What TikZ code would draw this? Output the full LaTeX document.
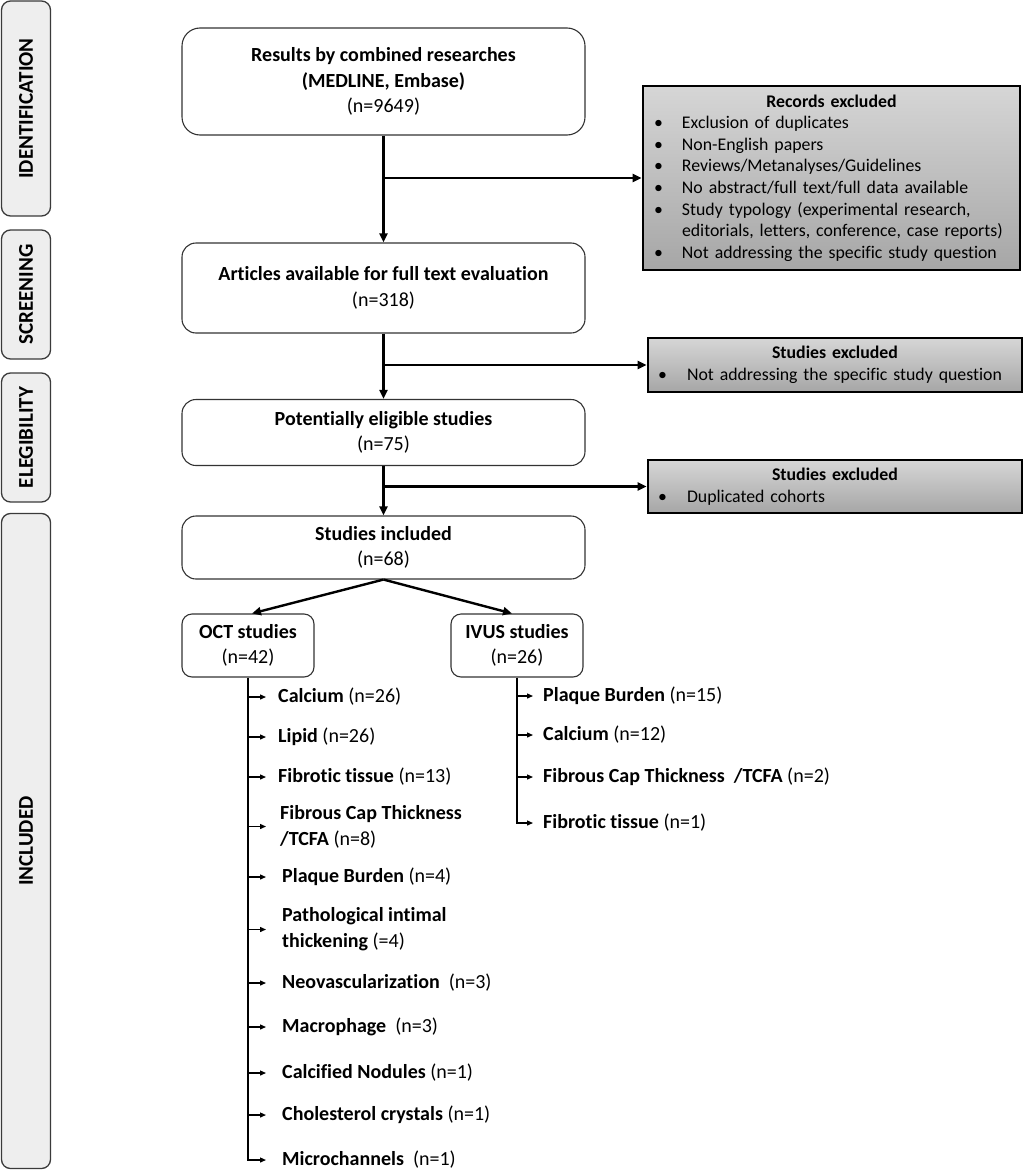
\documentclass[tikz,border=0pt]{standalone}
\usepackage{fontspec}
\setmainfont{Carlito}[Ligatures=NoCommon]
\usetikzlibrary{arrows.meta,calc}
\definecolor{phasefill}{HTML}{EEEEEE}
\definecolor{phasedraw}{HTML}{3A3A3A}
\definecolor{boxdraw}{HTML}{333333}
\definecolor{extop}{HTML}{D6D6D6}
\definecolor{exbot}{HTML}{A6A6A6}
\begin{document}
\begin{tikzpicture}[x=1pt,y=-1pt,
  phase/.style={draw=phasedraw, line width=1.3pt, fill=phasefill, rounded corners=9pt,
    rotate=90, font=\fontsize{21}{24}\selectfont\bfseries, inner sep=0pt},
  mainbox/.style={draw=boxdraw, line width=1.1pt, rounded corners=14pt, fill=white,
    align=center, inner sep=0pt, font=\fontsize{20}{25.5}\selectfont},
  exbox/.style={draw=black, line width=2.8pt, top color=extop, bottom color=exbot,
    font=\fontsize{17.8}{21.6}\selectfont, inner ysep=0pt, align=left},
  flow/.style={line width=2.4pt, -{Triangle[length=9pt,width=8pt]}},
  sub/.style={line width=1.3pt, -{Triangle[length=6pt,width=5pt]}},
  item/.style={anchor=west, align=left, inner sep=0pt, font=\fontsize{20}{26}\selectfont}
]
\useasboundingbox (0,0) rectangle (1026,1172);

% phase labels
\node[phase, minimum width=215, minimum height=49] (pid) at (26,108.5) {IDENTIFICATION};
\node[phase, minimum width=129, minimum height=49] (psc) at (26,294.5) {SCREENING};
\node[phase, minimum width=129, minimum height=49] (pel) at (26,437.5) {ELEGIBILITY};
\node[phase, minimum width=655, minimum height=49] (pin) at (26,841) {INCLUDED};

% main boxes
\node[mainbox, rounded corners=18pt, minimum width=403, minimum height=107] (b1) at (383.5,81.5)
  {\textbf{Results by combined researches}\\\textbf{(MEDLINE, Embase)}\\(n=9649)};
\node[mainbox, minimum width=403, minimum height=90] (b2) at (383.5,288)
  {\textbf{Articles available for full text evaluation}\\(n=318)};
\node[mainbox, minimum width=403, minimum height=66] (b3) at (383.5,432.5)
  {\textbf{Potentially eligible studies}\\(n=75)};
\node[mainbox, minimum width=403, minimum height=63] (b4) at (383.5,547.5)
  {\textbf{Studies included}\\(n=68)};
\node[mainbox, rounded corners=10pt, minimum width=132, minimum height=63] (oct) at (248,645.5)
  {\textbf{OCT studies}\\(n=42)};
\node[mainbox, rounded corners=10pt, minimum width=132, minimum height=63] (ivus) at (517,645.5)
  {\textbf{IVUS studies}\\(n=26)};

% excluded boxes
\node[exbox, minimum width=377, minimum height=184, text width=355, inner xsep=11pt] (ex1) at (831.5,178)
  {\centerline{\textbf{Records excluded}}
   \noindent\makebox[28pt][l]{\textbullet}Exclusion of duplicates\par
   \noindent\makebox[28pt][l]{\textbullet}Non-English papers\par
   \noindent\makebox[28pt][l]{\textbullet}Reviews/Metanalyses/Guidelines\par
   \noindent\makebox[28pt][l]{\textbullet}No abstract/full text/full data available\par
   \noindent\makebox[28pt][l]{\textbullet}Study typology (experimental research,\par
   \noindent\hspace*{28pt}editorials, letters, conference, case reports)\par
   \noindent\makebox[28pt][l]{\textbullet}Not addressing the specific study question\par};
\node[exbox, minimum width=374, minimum height=54, text width=354, inner xsep=10pt] (ex2) at (835,365)
  {\centerline{\textbf{Studies excluded}}
   \noindent\makebox[29pt][l]{\textbullet}Not addressing the specific study question\par};
\node[exbox, minimum width=374, minimum height=53, text width=354, inner xsep=10pt] (ex3) at (835,486.5)
  {\centerline{\textbf{Studies excluded}}
   \noindent\makebox[29pt][l]{\textbullet}Duplicated cohorts\par};

% main flow
\draw[flow] (b1.south) -- (b2.north);
\draw[flow] (b2.south) -- (b3.north);
\draw[flow] (b3.south) -- (b4.north);
\draw[flow] (b1.south |- ex1.west) -- (ex1.west);
\draw[flow] (b2.south |- ex2.west) -- (ex2.west);
\draw[flow] (b3.south |- ex3.west) -- (ex3.west);
\draw[flow] (b4.south) -- ([xshift=4pt]oct.north);
\draw[flow] (b4.south) -- ([xshift=-5pt]ivus.north);

% OCT items
\node[item] (o1) at (278,697) {\textbf{Calcium} (n=26)};
\node[item] (o2) at (278,737) {\textbf{Lipid} (n=26)};
\node[item] (o3) at (278,777) {\textbf{Fibrotic tissue} (n=13)};
\node[item] (o4) at (280,826.5) {\textbf{Fibrous Cap Thickness}\\\textbf{/TCFA} (n=8)};
\node[item] (o5) at (282,877) {\textbf{Plaque Burden} (n=4)};
\node[item] (o6) at (282,929.5) {\textbf{Pathological intimal}\\\textbf{thickening} (=4)};
\node[item] (o7) at (282,983) {\textbf{Neovascularization}\ \ (n=3)};
\node[item] (o8) at (282,1027) {\textbf{Macrophage}\ \ (n=3)};
\node[item] (o9) at (282,1073) {\textbf{Calcified Nodules} (n=1)};
\node[item] (o10) at (282,1115) {\textbf{Cholesterol crystals} (n=1)};
\node[item] (o11) at (282,1160) {\textbf{Microchannels}\ \ (n=1)};

\draw[sub] (oct.south) |- ([xshift=-16pt]o11.west);
\foreach \i/\s in {o1/12,o2/12,o3/12,o4/14,o5/16,o6/16,o7/16,o8/16,o9/16,o10/16}
  \draw[sub] (oct.south |- \i.west) -- ([xshift=-\s pt]\i.west);

% IVUS items
\node[item] (v1) at (543,696) {\textbf{Plaque Burden} (n=15)};
\node[item] (v2) at (543,735) {\textbf{Calcium} (n=12)};
\node[item] (v3) at (543,777) {\textbf{Fibrous Cap Thickness\ \ /TCFA} (n=2)};
\node[item] (v4) at (543,823) {\textbf{Fibrotic tissue} (n=1)};

\draw[sub] (ivus.south) |- ([xshift=-10pt]v4.west);
\foreach \i in {v1,v2,v3}
  \draw[sub] (ivus.south |- \i.west) -- ([xshift=-10pt]\i.west);
\end{tikzpicture}
\end{document}
